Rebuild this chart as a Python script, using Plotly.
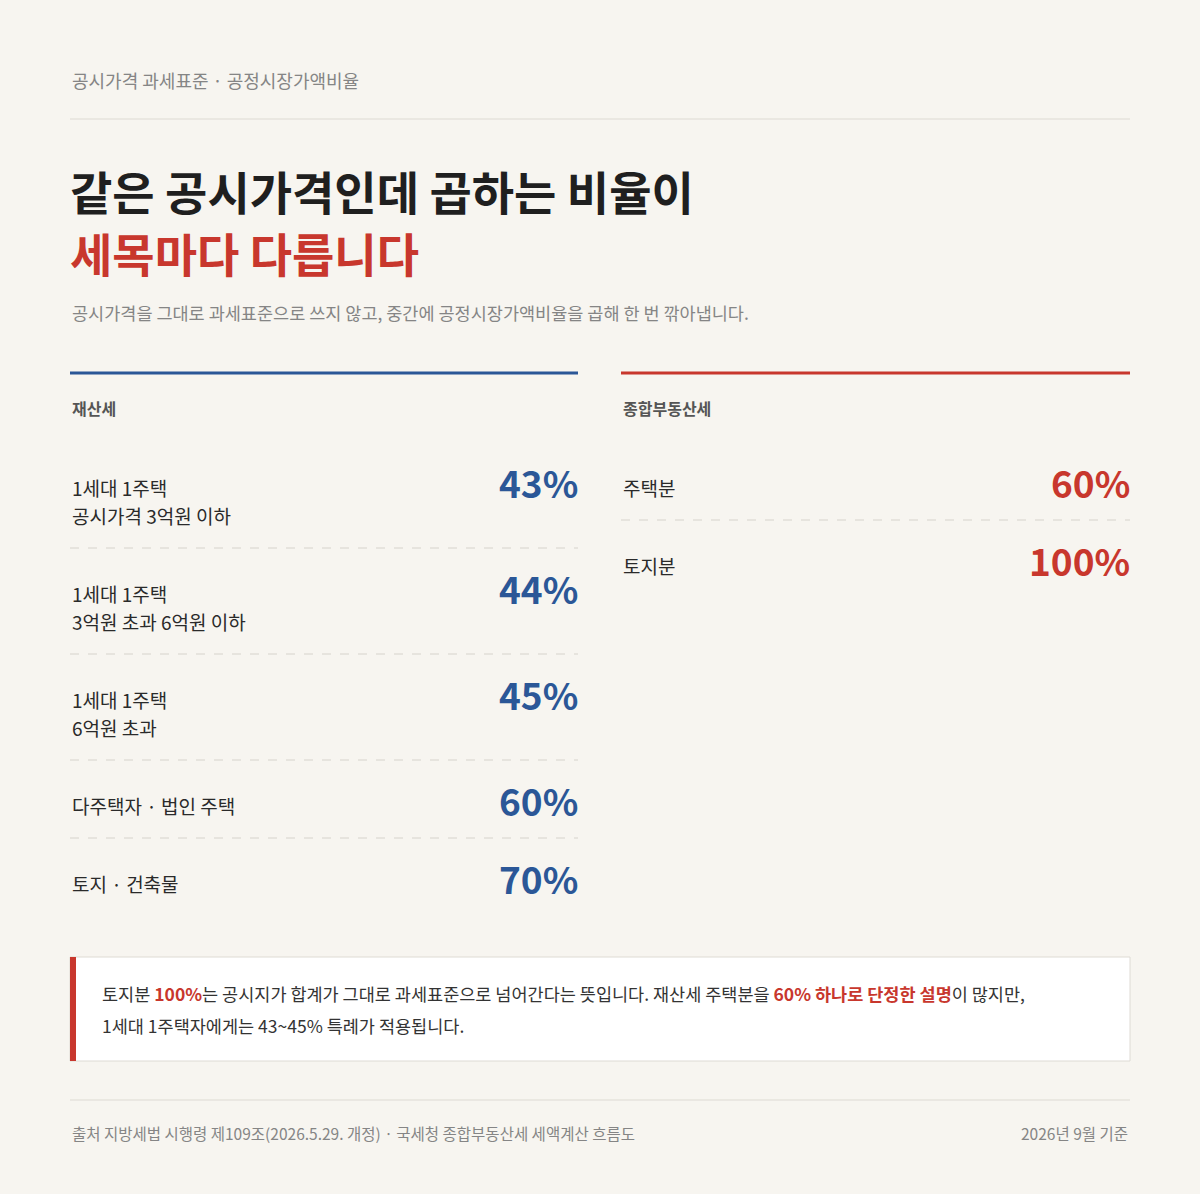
import plotly.graph_objects as go

# 재산세 공정시장가액비율
property_labels = [
    ["1세대 1주택", "공시가격 3억원 이하"],
    ["1세대 1주택", "3억원 초과 6억원 이하"],
    ["1세대 1주택", "6억원 초과"],
    ["다주택자 · 법인 주택"],
    ["토지 · 건축물"],
]
property_rates = [43, 44, 45, 60, 70]

# 종합부동산세 공정시장가액비율
comprehensive_labels = [["주택분"], ["토지분"]]
comprehensive_rates = [60, 100]

FONT = "Noto Sans CJK KR"
BG = "#f7f5f0"
BLUE = "#2b5797"
RED = "#c8372d"
DARK = "#1f1f1f"
GRAY = "#858585"

fig = go.Figure()
annotations = []
shapes = []


def text(x, y, s, size, color, bold=False, anchor="left"):
    if bold:
        s = f"<b>{s}</b>"
    annotations.append(dict(
        x=x, y=y, xref="x", yref="y", text=s, showarrow=False,
        xanchor=anchor, yanchor="middle",
        font=dict(family=FONT, size=size, color=color),
    ))


def hline(x0, x1, y, color, width=1, dash="solid"):
    shapes.append(dict(type="line", xref="x", yref="y", x0=x0, x1=x1, y0=y, y1=y,
                       line=dict(color=color, width=width, dash=dash)))


# Header
text(70, 80, "공시가격 과세표준 · 공정시장가액비율", 18, GRAY)
hline(70, 1130, 119, "#dddad3")
text(68, 190, "같은 공시가격인데 곱하는 비율이", 46, DARK, bold=True)
text(68, 252, "세목마다 다릅니다", 46, RED, bold=True)
text(70, 312, "공시가격을 그대로 과세표준으로 쓰지 않고, 중간에 공정시장가액비율을 곱해 한 번 깎아냅니다.", 17.5, GRAY)


def column(x0, x1, color, title, labels, rates):
    hline(x0, x1, 373, color, width=3)
    text(x0, 408, title, 16, "#555", bold=True)
    y = 487
    for i, (lab, rate) in enumerate(zip(labels, rates)):
        for j, line in enumerate(lab):
            text(x0, y + 28 * j, line, 19, "#2a2a2a")
        text(x1 + 2, y - 5, f"{rate}%", 37, color, bold=True, anchor="right")
        span = 28 * (len(lab) - 1)
        if i < len(labels) - 1:
            div = y + span + 33
            hline(x0, x1, div, "#d6d3cc", dash="dash")
            y = div + 45
    return y


column(70, 578, BLUE, "재산세", property_labels, property_rates)
column(621, 1130, RED, "종합부동산세", comprehensive_labels, comprehensive_rates)

# Callout box
shapes.append(dict(type="rect", xref="x", yref="y", x0=70, x1=1130, y0=957, y1=1061,
                   fillcolor="white", line=dict(color="#dedbd4", width=1), layer="below"))
shapes.append(dict(type="rect", xref="x", yref="y", x0=70, x1=76, y0=957, y1=1061,
                   fillcolor=RED, line=dict(width=0)))
r = f"<span style='color:{RED}'><b>"
text(100, 993, f"토지분 {r}100%</b></span>는 공시지가 합계가 그대로 과세표준으로 넘어간다는 뜻입니다. "
     f"재산세 주택분을 {r}60% 하나로 단정한 설명</b></span>이 많지만,", 17.5, "#333")
text(100, 1025, "1세대 1주택자에게는 43~45% 특례가 적용됩니다.", 17.5, "#333")

# Footer
hline(70, 1130, 1100, "#dddad3")
text(70, 1133, "출처 지방세법 시행령 제109조(2026.5.29. 개정) · 국세청 종합부동산세 세액계산 흐름도", 15.5, GRAY)
text(1130, 1133, "2026년 9월 기준", 15.5, GRAY, anchor="right")

fig.update_layout(
    width=1200, height=1194, margin=dict(l=0, r=0, t=0, b=0),
    paper_bgcolor=BG, plot_bgcolor=BG,
    xaxis=dict(range=[0, 1200], visible=False, fixedrange=True),
    yaxis=dict(range=[1194, 0], visible=False, fixedrange=True),
    annotations=annotations, shapes=shapes, showlegend=False,
)

fig.write_html(
    "out.html",
    config={"displayModeBar": False},
    post_script="document.body.style.margin='0';document.body.style.background='#f7f5f0';"
    "document.body.style.overflow='hidden';",
)
